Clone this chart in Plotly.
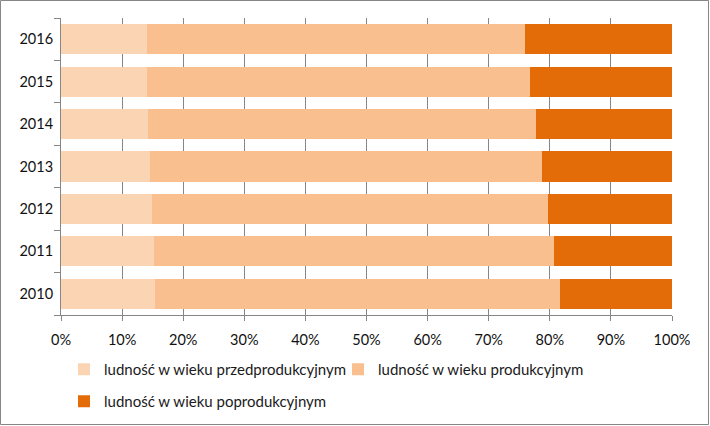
import plotly.graph_objects as go

years = ["2010", "2011", "2012", "2013", "2014", "2015", "2016"]
przed = [15.4, 15.2, 14.9, 14.6, 14.2, 14.1, 14.1]
prod = [66.3, 65.5, 64.8, 64.1, 63.5, 62.7, 61.8]
poprod = [18.3, 19.3, 20.3, 21.3, 22.3, 23.2, 24.1]

names = ["ludność w wieku przedprodukcyjnym",
         "ludność w wieku produkcyjnym",
         "ludność w wieku poprodukcyjnym"]
colors = ["#FBD4B4", "#F9BF8F", "#E36C09"]
legends = ["legend", "legend2", "legend3"]

W, H = 710, 426
L, R, T, B = 61, 38, 18, 111
pw = W - L - R
ph = H - T - B

fig = go.Figure()
for vals, nm, c, lg in zip([przed, prod, poprod], names, colors, legends):
    fig.add_trace(go.Bar(y=years, x=vals, name=nm, orientation="h", legend=lg,
                         marker=dict(color=c, line=dict(width=0))))

leg_font = dict(family="Lato, sans-serif", size=15, color="#1a1a1a")
def leg(xpx, ytop):
    return dict(orientation="h", x=(xpx - L) / pw, xanchor="left",
                y=-(ytop - (T + ph)) / ph, yanchor="top", font=leg_font,
                bgcolor="rgba(0,0,0,0)", borderwidth=0, itemwidth=30)

fig.update_layout(
    width=W, height=H,
    margin=dict(l=L, r=R, t=T, b=B, autoexpand=False),
    barmode="stack", bargap=0.29,
    paper_bgcolor="white", plot_bgcolor="white",
    font=dict(family="Lato, sans-serif", size=14.5, color="#111111"),
    showlegend=True,
    legend=leg(64, 353),
    legend2=leg(338, 353),
    legend3=leg(64, 385),
    xaxis=dict(range=[0, 100], dtick=10, ticksuffix="%", showgrid=True,
               gridcolor="#868686", gridwidth=1, showline=True, linecolor="#868686",
               ticks="outside", ticklen=5, tickcolor="#868686", zeroline=False,
               fixedrange=True, ticklabelstandoff=7),
    yaxis=dict(type="category", showline=True, linecolor="#868686", ticks="outside",
               tickson="boundaries", ticklen=6, tickcolor="#868686", showgrid=False,
               ticklabelstandoff=4, fixedrange=True),
    shapes=[dict(type="rect", xref="paper", yref="paper",
                 x0=-(L - 0.5) / pw, x1=1 + (R - 1.5) / pw,
                 y0=-(B - 1.5) / ph, y1=1 + (T - 0.5) / ph,
                 line=dict(color="#868686", width=1), layer="below")],
)
fig.write_html("out.html", config={"displayModeBar": False},
               post_script="document.body.style.margin='0px';")
